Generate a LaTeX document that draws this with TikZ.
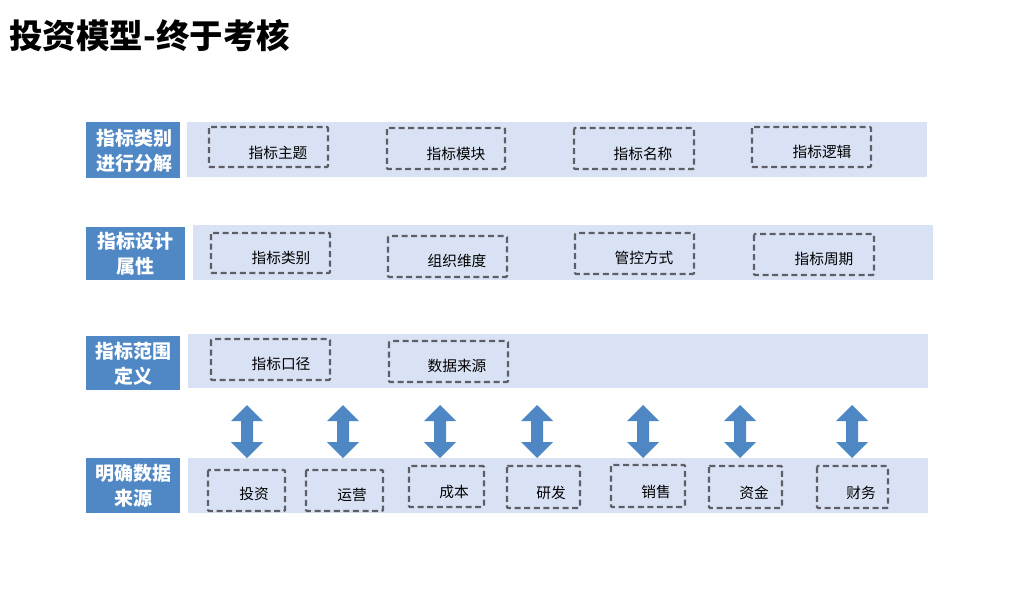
\documentclass[tikz,border=0pt]{standalone}
\usepackage{fontspec}
\setmainfont{Noto Sans CJK SC}
\definecolor{labfill}{HTML}{5087C5}
\definecolor{bandfill}{HTML}{D9E2F4}
\definecolor{dashgray}{HTML}{5E5E66}
\definecolor{arrfill}{HTML}{4F86C4}
\begin{document}
\begin{tikzpicture}[x=1pt,y=-1pt,
  labbox/.style={text=white,font=\fontsize{19}{25}\selectfont\bfseries,align=center,inner sep=0pt},
  band/.style={fill=bandfill},
  dbox/.style={draw=dashgray,line width=2.4pt,dash pattern=on 6pt off 3.6pt,rounded corners=1pt},
  btxt/.style={font=\fontsize{14.7}{16}\selectfont,text=black,inner sep=0pt},
  dblarrow/.pic={\fill[arrfill] (0,0) -- (16,16) -- (6,16) -- (6,37) -- (16,37) -- (0,53) -- (-16,37) -- (-6,37) -- (-6,16) -- (-16,16) -- cycle;}
]
\useasboundingbox (0,0) rectangle (1019,597);
\fill[white] (0,0) rectangle (1019,597);
\node[anchor=west,font=\fontsize{33.5}{38}\selectfont\bfseries,inner sep=0pt] (title) at (9,36) {投资模型-终于考核};

% Row 1
\fill[band] (187,122) rectangle (927,177);
\fill[labfill] (86,122) rectangle (180,178);
\node[labbox] (l1) at (134,151) {指标类别\\进行分解};
\draw[dbox] (209,127) rectangle (328,167); \node[btxt] (t11) at (278,153) {指标主题};
\draw[dbox] (387,128) rectangle (505,169); \node[btxt] (t12) at (456,154) {指标模块};
\draw[dbox] (574,128) rectangle (694,169); \node[btxt] (t13) at (643,154) {指标名称};
\draw[dbox] (752,127) rectangle (871,167); \node[btxt] (t14) at (822,152) {指标逻辑};

% Row 2
\fill[band] (193,225) rectangle (933,280);
\fill[labfill] (86,227) rectangle (185,280);
\node[labbox] (l2) at (135.5,254) {指标设计\\属性};
\draw[dbox] (211,233) rectangle (330,273); \node[btxt] (t21) at (281,258) {指标类别};
\draw[dbox] (388,236) rectangle (507,277); \node[btxt] (t22) at (457,261) {组织维度};
\draw[dbox] (575,233) rectangle (694,274); \node[btxt] (t23) at (644,258) {管控方式};
\draw[dbox] (754,234) rectangle (874,275); \node[btxt] (t24) at (824,259) {指标周期};

% Row 3
\fill[band] (188,334) rectangle (928,388);
\fill[labfill] (86,336) rectangle (180,390);
\node[labbox] (l3) at (133,364) {指标范围\\定义};
\draw[dbox] (211,339) rectangle (330,380); \node[btxt] (t31) at (281,364) {指标口径};
\draw[dbox] (389,341) rectangle (508,382); \node[btxt] (t32) at (457,366) {数据来源};

% Arrows
\foreach \ax in {247,343,440,537,643,740,852} { \pic at (\ax,405) {dblarrow}; }

% Row 4
\fill[band] (188,458) rectangle (928,513);
\fill[labfill] (86,458) rectangle (180,513);
\node[labbox] (l4) at (133,486) {明确数据\\来源};
\draw[dbox] (208,470) rectangle (285,511); \node[btxt] (t41) at (254,494) {投资};
\draw[dbox] (306,470) rectangle (383,511); \node[btxt] (t42) at (352,495) {运营};
\draw[dbox] (409,466) rectangle (484,507); \node[btxt] (t43) at (454,492) {成本};
\draw[dbox] (507,466) rectangle (580,508); \node[btxt] (t44) at (551,493) {研发};
\draw[dbox] (611,465) rectangle (685,507); \node[btxt] (t45) at (656,492) {销售};
\draw[dbox] (709,466) rectangle (782,508); \node[btxt] (t46) at (754,493) {资金};
\draw[dbox] (817,466) rectangle (888,508); \node[btxt] (t47) at (861,493) {财务};
\end{tikzpicture}
\end{document}
